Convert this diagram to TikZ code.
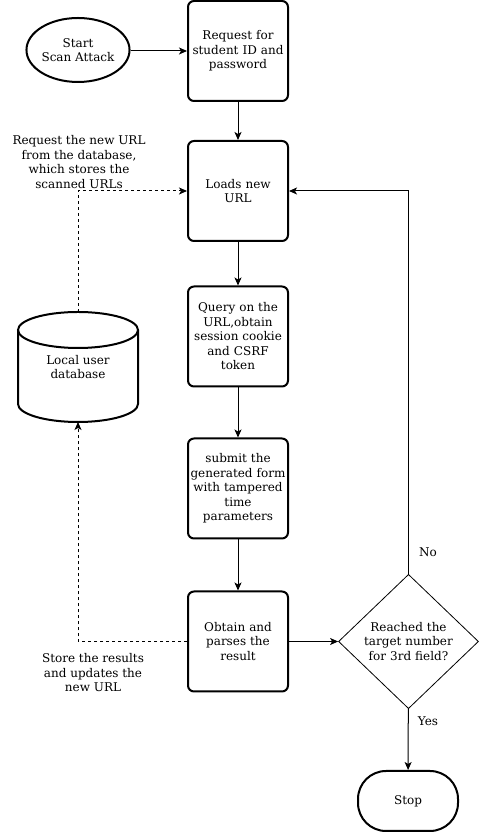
\documentclass[tikz,border=0pt]{standalone}
\usepackage{fontspec}
\setmainfont{DejaVu Serif}
\usetikzlibrary{arrows.meta,shapes.geometric}
\begin{document}
\begin{tikzpicture}[x=1pt,y=1pt,
  font=\fontsize{12}{14.5}\selectfont,
  procbox/.style={draw,line width=2pt,rounded corners=6pt,minimum width=100pt,minimum height=100pt,text width=96pt,align=center,inner sep=0pt},
  termell/.style={draw,line width=2pt,ellipse,minimum width=100pt,minimum height=64pt,inner sep=0pt,align=center},
  stopbox/.style={draw,line width=2pt,rounded corners=28pt,minimum width=100pt,minimum height=60pt,inner sep=0pt},
  decis/.style={draw,line width=0.8pt,diamond,minimum width=140pt,minimum height=130pt,inner sep=0pt,align=center,text width=96pt},
  lbl/.style={align=center,inner sep=0pt},
  conn/.style={line width=1pt,-{Stealth[length=8pt,width=7pt,inset=2pt]}},
  dconn/.style={conn,dash pattern=on 3pt off 3pt},
]
\useasboundingbox (0,0) rectangle (479,832);
\node[termell] (start) at (78,782) {Start\\Scan Attack};
\node[procbox] (b1) at (238,781) {Request for\\student ID and\\password};
\node[procbox] (b2) at (238,641) {Loads new\\URL};
\node[procbox] (b3) at (238,495.5) {Query on the\\URL,obtain\\session cookie\\and CSRF\\token};
\node[procbox] (b4) at (238,343.5) {submit the\\generated form\\with tampered\\time\\parameters};
\node[procbox] (b5) at (238,190.5) {Obtain and\\parses the\\result};
\node[decis] (dia) at (408.5,190.5) {Reached the\\target number\\for 3rd field?};
\node[stopbox] (stop) at (408,31) {Stop};
% database cylinder
\node[minimum width=120pt,minimum height=110pt,inner sep=0pt,align=center] (db) at (78,465) {Local user\\database};
\draw[line width=2pt] (18,502) -- (18,428) arc[start angle=180,end angle=360,x radius=60,y radius=18] -- (138,502);
\draw[line width=2pt] (78,502) ellipse[x radius=60,y radius=18];
% labels
\node[lbl] (l1) at (79,670) {Request the new URL\\from the database,\\which stores the\\scanned URLs};
\node[lbl] (l2) at (93,159) {Store the results\\and updates the\\new URL};
\node[lbl] (no) at (428,280) {No};
\node[lbl] (yes) at (428,111) {Yes};
% connectors
\draw[conn] (start.east |- b1.west) -- (b1.west);
\draw[conn] (b1) -- (b2);
\draw[conn] (b2) -- (b3);
\draw[conn] (b3) -- (b4);
\draw[conn] (b4) -- (b5);
\draw[conn] (b5) -- (dia);
\draw[conn] (dia) -- (stop);
\draw[conn] (dia.north) |- (b2.east);
\coordinate (dbtop) at (78,520);
\coordinate (dbbot) at (78,410);
\draw[dconn] (dbtop) |- (b2.west);
\draw[dconn] (b5.west) -| (dbbot);
\end{tikzpicture}
\end{document}
